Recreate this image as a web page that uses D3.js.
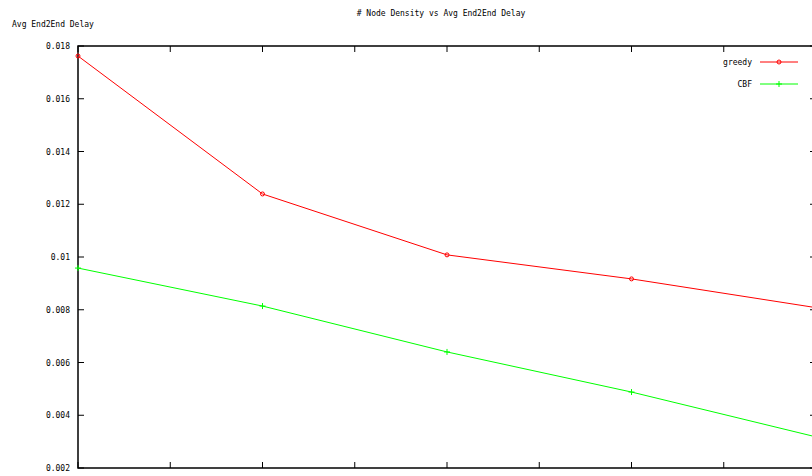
<!DOCTYPE html>
<html>
<head>
<meta charset="utf-8">
<script src="https://cdn.jsdelivr.net/npm/d3@7"></script>
<style>
  html, body { margin: 0; padding: 0; background: #fff; overflow: hidden; }
  text { font-family: "DejaVu Sans Mono", monospace; font-size: 8px; fill: #000; }
</style>
</head>
<body>
<div id="chart"></div>
<script>
// valori
const nodeDensity = [20, 40, 60, 80, 100];
const greedyDelay = [0.01762, 0.01239, 0.01008, 0.00917, 0.00808];
const cbfDelay = [0.00958, 0.00814, 0.0064, 0.00488, 0.00318];
const xTicks = [20, 30, 40, 50, 60, 70, 80, 90, 100];
const yTicks = [0.002, 0.004, 0.006, 0.008, 0.01, 0.012, 0.014, 0.016, 0.018];
const yTickLabels = ['0.002', '0.004', '0.006', '0.008', '0.01', '0.012', '0.014', '0.016', '0.018'];

const width = 812, height = 476;
const plot = { left: 78, right: 816, top: 46, bottom: 468 };

const svg = d3.select('#chart').append('svg')
    .attr('width', width)
    .attr('height', height);

const x = d3.scaleLinear().domain([20, 100]).range([plot.left, plot.right]);
const y = d3.scaleLinear().domain([0.002, 0.018]).range([plot.bottom, plot.top]);

// titolo ed etichetta asse y
svg.append('text')
    .attr('x', 441).attr('y', 16)
    .attr('text-anchor', 'middle')
    .text('# Node Density vs Avg End2End Delay');
svg.append('text')
    .attr('x', 12).attr('y', 27)
    .text('Avg End2End Delay');

// tick dell'asse y (sinistra e destra)
const tickLen = 6;
svg.append('g').selectAll('line.yl')
    .data(yTicks).enter().append('line')
    .attr('x1', plot.left).attr('x2', plot.left + tickLen)
    .attr('y1', d => y(d)).attr('y2', d => y(d))
    .attr('stroke', '#000');
svg.append('g').selectAll('line.yr')
    .data(yTicks).enter().append('line')
    .attr('x1', plot.right).attr('x2', plot.right - tickLen)
    .attr('y1', d => y(d)).attr('y2', d => y(d))
    .attr('stroke', '#000');
svg.append('g').selectAll('text')
    .data(yTicks).enter().append('text')
    .attr('x', plot.left - 8)
    .attr('y', d => y(d) + 3)
    .attr('text-anchor', 'end')
    .text((d, i) => yTickLabels[i]);

// tick dell'asse x (sopra e sotto)
svg.append('g').selectAll('line')
    .data(xTicks).enter().append('line')
    .attr('x1', d => x(d)).attr('x2', d => x(d))
    .attr('y1', plot.top).attr('y2', plot.top + tickLen)
    .attr('stroke', '#000');
svg.append('g').selectAll('line')
    .data(xTicks).enter().append('line')
    .attr('x1', d => x(d)).attr('x2', d => x(d))
    .attr('y1', plot.bottom).attr('y2', plot.bottom - tickLen)
    .attr('stroke', '#000');

// bordo
svg.append('rect')
    .attr('x', plot.left).attr('y', plot.top)
    .attr('width', plot.right - plot.left)
    .attr('height', plot.bottom - plot.top)
    .attr('fill', 'none')
    .attr('stroke', '#000')
    .attr('stroke-width', 1.5);

const series = [
    { name: 'greedy', values: greedyDelay, color: '#ff0000', marker: 'dot' },
    { name: 'CBF', values: cbfDelay, color: '#00ff00', marker: 'plus' }
];

const line = d3.line()
    .x((d, i) => x(nodeDensity[i]))
    .y(d => y(d));

function drawMarker(g, cx, cy, s) {
    if (s.marker === 'dot') {
        g.append('circle').attr('cx', cx).attr('cy', cy).attr('r', 2)
            .attr('fill', 'none').attr('stroke', s.color);
    } else {
        g.append('line').attr('x1', cx).attr('x2', cx)
            .attr('y1', cy - 3).attr('y2', cy + 3).attr('stroke', s.color);
        g.append('line').attr('x1', cx - 3).attr('x2', cx + 3)
            .attr('y1', cy).attr('y2', cy).attr('stroke', s.color);
    }
}

series.forEach((s, k) => {
    const g = svg.append('g');
    g.append('path')
        .datum(s.values)
        .attr('d', line)
        .attr('fill', 'none')
        .attr('stroke', s.color)
        .attr('stroke-width', 1);
    s.values.forEach((v, i) => drawMarker(g, x(nodeDensity[i]), y(v), s));

    // legenda
    const ly = 62 + k * 22;
    svg.append('text')
        .attr('x', 752).attr('y', ly + 3)
        .attr('text-anchor', 'end')
        .text(s.name);
    svg.append('line')
        .attr('x1', 760).attr('x2', 798)
        .attr('y1', ly).attr('y2', ly)
        .attr('stroke', s.color);
    drawMarker(svg, 779, ly, s);
});
</script>
</body>
</html>
